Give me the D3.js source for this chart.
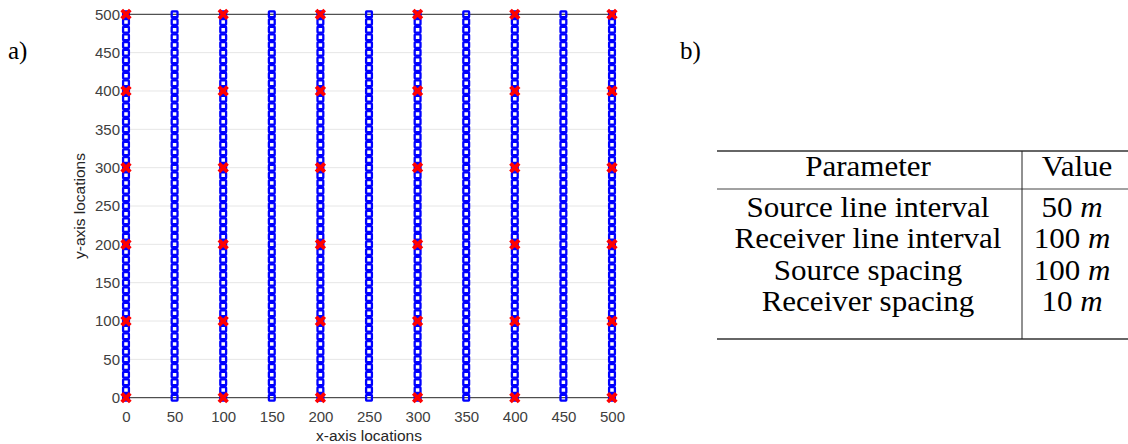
<!DOCTYPE html>
<html>
<head>
<meta charset="utf-8">
<script src="https://cdn.jsdelivr.net/npm/d3@7"></script>
<style>
  html, body { margin: 0; padding: 0; background: #fff; }
  svg { display: block; }
</style>
</head>
<body>
<svg id="chart" width="1128" height="444"></svg>
<script>
// ---- data ----
const receiverLineX = [0, 50, 100, 150, 200, 250, 300, 350, 400, 450, 500];
const receiverY = [0, 10, 20, 30, 40, 50, 60, 70, 80, 90, 100, 110, 120, 130, 140, 150, 160, 170, 180, 190,
  200, 210, 220, 230, 240, 250, 260, 270, 280, 290, 300, 310, 320, 330, 340, 350, 360, 370, 380, 390,
  400, 410, 420, 430, 440, 450, 460, 470, 480, 490, 500];
const sourceX = [0, 100, 200, 300, 400, 500];
const sourceY = [0, 100, 200, 300, 400, 500];
const xTicks = [0, 50, 100, 150, 200, 250, 300, 350, 400, 450, 500];
const yTicks = [0, 50, 100, 150, 200, 250, 300, 350, 400, 450, 500];
const tableHeader = ["Parameter", "Value"];
const tableParams = ["Source line interval", "Receiver line interval", "Source spacing", "Receiver spacing"];
const tableValues = ["50", "100", "100", "10"];
const tableUnit = "m";

// ---- layout ----
const svg = d3.select("#chart");
const plot = { left: 126, right: 612, top: 14.3, bottom: 397.7 };
const x = d3.scaleLinear().domain([0, 500]).range([plot.left, plot.right]);
const y = d3.scaleLinear().domain([0, 500]).range([plot.bottom, plot.top]);
const tickFont = "Liberation Sans, Arial, sans-serif";

// grid lines
svg.append("g").selectAll("line").data(yTicks.filter(d => d !== 0 && d !== 500)).join("line")
  .attr("x1", plot.left).attr("x2", plot.right)
  .attr("y1", d => y(d)).attr("y2", d => y(d))
  .attr("stroke", "#e6e6e6").attr("stroke-width", 1);

// top & bottom frame lines
svg.append("g").selectAll("line").data([0, 500]).join("line")
  .attr("x1", plot.left).attr("x2", plot.right)
  .attr("y1", d => y(d)).attr("y2", d => y(d))
  .attr("stroke", "#262626").attr("stroke-width", 1);

// axes
const xAxis = d3.axisBottom(x).tickValues(xTicks).tickSize(0).tickPadding(14);
const gx = svg.append("g").attr("transform", `translate(0,${plot.bottom})`).call(xAxis);
gx.select(".domain").remove();
gx.selectAll("text").attr("font-family", tickFont).attr("font-size", 15).attr("fill", "#404040");

const yAxis = d3.axisLeft(y).tickValues(yTicks).tickSize(0).tickPadding(6);
const gy = svg.append("g").attr("transform", `translate(${plot.left},0)`).call(yAxis);
gy.select(".domain").remove();
gy.selectAll("text").attr("font-family", tickFont).attr("font-size", 15).attr("fill", "#404040");

// axis labels
svg.append("text").attr("x", (plot.left + plot.right) / 2).attr("y", 441)
  .attr("text-anchor", "middle").attr("font-family", tickFont).attr("font-size", 15.5).attr("fill", "#262626")
  .text("x-axis locations");
svg.append("text").attr("transform", `translate(85,${(plot.top + plot.bottom) / 2}) rotate(-90)`)
  .attr("text-anchor", "middle").attr("font-family", tickFont).attr("font-size", 15.5).attr("fill", "#262626")
  .text("y-axis locations");

// receivers (blue squares)
const receivers = [];
receiverLineX.forEach(rx => receiverY.forEach(ry => receivers.push([rx, ry])));
const sq = 5.8;
svg.append("g").selectAll("rect").data(receivers).join("rect")
  .attr("x", d => x(d[0]) - sq / 2).attr("y", d => y(d[1]) - sq / 2)
  .attr("width", sq).attr("height", sq).attr("rx", 0.5)
  .attr("fill", "none").attr("stroke", "#0000ff").attr("stroke-width", 2.3);

// sources (red crosses)
const sources = [];
sourceX.forEach(sx => sourceY.forEach(sy => sources.push([sx, sy])));
const cr = 4.3;
const gs = svg.append("g");
sources.forEach(d => {
  const cx = x(d[0]), cy = y(d[1]);
  gs.append("path")
    .attr("d", `M${cx - cr},${cy - cr}L${cx + cr},${cy + cr}M${cx - cr},${cy + cr}L${cx + cr},${cy - cr}`)
    .attr("stroke", "#ff0000").attr("stroke-width", 3.8).attr("fill", "none");
});

// panel labels
const serif = "Liberation Serif, Times New Roman, serif";
svg.append("text").attr("x", 8).attr("y", 59).attr("font-family", serif).attr("font-size", 25).attr("fill", "#000").text("a)");
svg.append("text").attr("x", 680).attr("y", 59).attr("font-family", serif).attr("font-size", 25).attr("fill", "#000").text("b)");

// ---- table ----
const tbl = { left: 717, right: 1128, top: 151, headRule: 189, bottom: 339, sep: 1022, col1: 868, col2: 1075 };
const rowY = d3.scalePoint().domain(tableParams).range([217, 311]);
svg.append("line").attr("x1", tbl.left).attr("x2", tbl.right).attr("y1", tbl.top).attr("y2", tbl.top).attr("stroke", "#333").attr("stroke-width", 1.4);
svg.append("line").attr("x1", tbl.left).attr("x2", tbl.right).attr("y1", tbl.headRule).attr("y2", tbl.headRule).attr("stroke", "#444").attr("stroke-width", 1);
svg.append("line").attr("x1", tbl.left).attr("x2", tbl.right).attr("y1", tbl.bottom).attr("y2", tbl.bottom).attr("stroke", "#333").attr("stroke-width", 1.4);
svg.append("line").attr("x1", tbl.sep).attr("x2", tbl.sep).attr("y1", tbl.top).attr("y2", tbl.bottom).attr("stroke", "#222").attr("stroke-width", 1);

const tfs = 29;
const sx = 1.07;
function cellText(cx, cy) {
  return svg.append("g").attr("transform", `translate(${cx},${cy}) scale(${sx},1)`)
    .append("text").attr("x", 0).attr("y", 0).attr("text-anchor", "middle")
    .attr("font-family", serif).attr("font-size", tfs).attr("fill", "#000");
}
cellText(tbl.col1, 176).text(tableHeader[0]);
cellText(tbl.col2 + 2, 176).text(tableHeader[1]);
tableParams.forEach(p => cellText(tbl.col1, rowY(p)).text(p));
tableValues.forEach((v, i) => {
  const t = cellText(tbl.col2 - 3, rowY(tableParams[i]));
  t.append("tspan").text(v + " ");
  t.append("tspan").attr("font-style", "italic").text(tableUnit);
});
</script>
</body>
</html>
